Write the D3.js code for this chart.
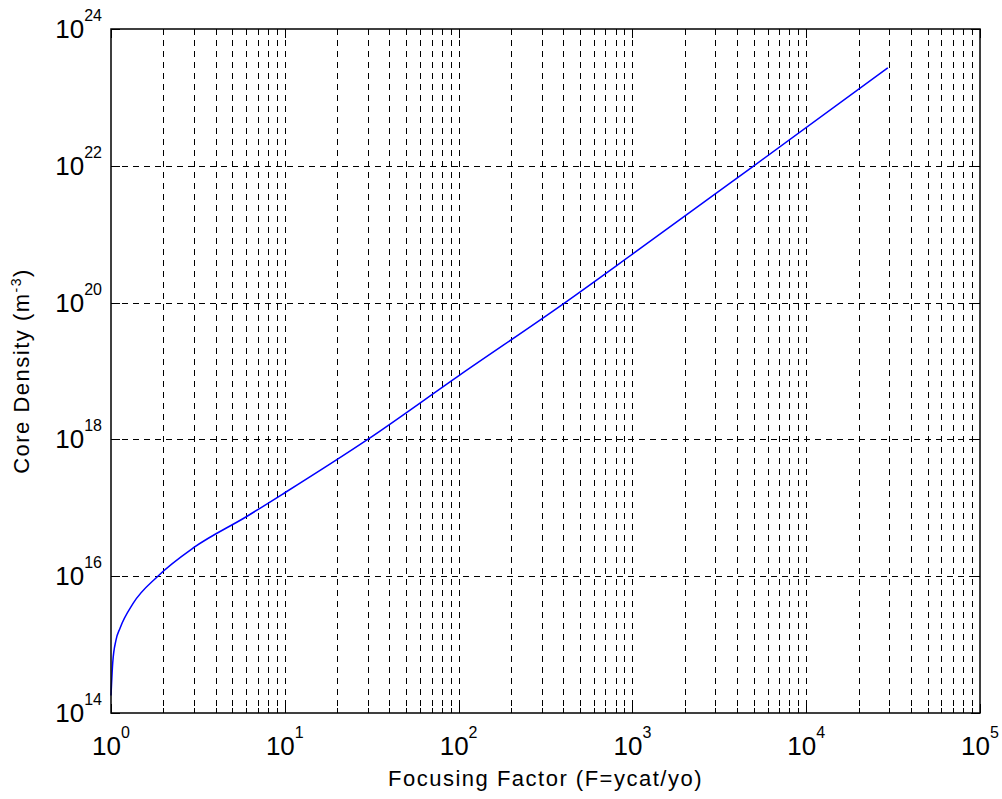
<!DOCTYPE html>
<html>
<head>
<meta charset="utf-8">
<script src="https://cdn.jsdelivr.net/npm/d3@7"></script>
<style>
  body { margin: 0; background: #fff; }
  text { font-family: "Liberation Sans", Arial, sans-serif; fill: #000; }
</style>
</head>
<body>
<div id="chart"></div>
<script>
// focusing factor F and core density (m^-3)
const focusing = [1.0, 1.023, 1.069, 1.127, 1.34, 1.86, 3, 6, 10, 30, 100, 410, 1000, 5000, 29500]
const density = [1.8e14, 5.4e14, 1.17e15, 1.74e15, 4.0e15, 1.0e16, 2.63e16, 7.4e16, 1.66e17, 1.0e18, 8.5e18, 1.0e20, 5.1e20, 1.0e22, 2.7e23]

const xTickExp = [0, 1, 2, 3, 4, 5]
const yTickExp = [14, 16, 18, 20, 22, 24]

const xTitle = "Focusing Factor (F=ycat/yo)"
const yTitle = "Core Density (m"
const yTitleSup = "-3"

var width = 1002,
    height = 799;

// plot box (top is a window property, so use prefixed names)
var pLeft = 111, pRight = 980, pTop = 29, pBottom = 713;

var svg = d3.select('#chart')
    .append('svg')
    .attr("width", width)
    .attr("height", height)

var x = d3.scaleLog().domain([1, 1e5]).range([pLeft, pRight])
var y = d3.scaleLog().domain([1e14, 1e24]).range([pBottom, pTop])

// grid - vertical at every log tick, horizontal at labelled ticks only
let gridX = x.ticks().filter(d => d > 1 && d < 1e5)
let gridY = yTickExp.map(e => Math.pow(10, e)).filter(d => d > 1e14 && d < 1e24)

let grid = svg.append("g")
    .attr("stroke", "#000")
    .attr("stroke-width", 1)
    .attr("stroke-dasharray", "6,5")

grid.selectAll(".gx")
    .data(gridX)
    .enter().append("line")
    .attr("x1", d => Math.round(x(d)) + 0.5)
    .attr("x2", d => Math.round(x(d)) + 0.5)
    .attr("y1", pTop)
    .attr("y2", pBottom)

grid.selectAll(".gy")
    .data(gridY)
    .enter().append("line")
    .attr("x1", pLeft)
    .attr("x2", pRight)
    .attr("y1", d => Math.round(y(d)) + 0.5)
    .attr("y2", d => Math.round(y(d)) + 0.5)

// ticks on all four sides, pointing inwards
let ticks = svg.append("g").attr("stroke", "#000").attr("stroke-width", 1)
x.ticks().forEach(d => {
    let lg = Math.log10(d)
    let major = Math.abs(lg - Math.round(lg)) < 1e-9
    let len = major ? 9 : 5
    let px = Math.round(x(d)) + 0.5
    ticks.append("line").attr("x1", px).attr("x2", px).attr("y1", pBottom).attr("y2", pBottom - len)
    ticks.append("line").attr("x1", px).attr("x2", px).attr("y1", pTop).attr("y2", pTop + len)
})
yTickExp.forEach(e => {
    let py = Math.round(y(Math.pow(10, e))) + 0.5
    ticks.append("line").attr("x1", pLeft).attr("x2", pLeft + 9).attr("y1", py).attr("y2", py)
    ticks.append("line").attr("x1", pRight).attr("x2", pRight - 9).attr("y1", py).attr("y2", py)
})

// curve
let line = d3.line()
    .x((d, i) => x(focusing[i]))
    .y(d => y(d))
    .curve(d3.curveMonotoneX)

svg.append("path")
    .datum(density)
    .attr("d", line)
    .attr("fill", "none")
    .attr("stroke", "#0000ff")
    .attr("stroke-width", 1.5)

// box
svg.append("rect")
    .attr("x", pLeft)
    .attr("y", pTop)
    .attr("width", pRight - pLeft)
    .attr("height", pBottom - pTop)
    .attr("fill", "none")
    .attr("stroke", "#000")
    .attr("stroke-width", 1.5)

// tick labels
xTickExp.forEach(e => {
    let t = svg.append("text")
        .attr("x", x(Math.pow(10, e)))
        .attr("y", pBottom + 42)
        .attr("text-anchor", "middle")
        .style("font-size", "26px")
    t.append("tspan").text("10")
    t.append("tspan").attr("dy", -17).style("font-size", "16px").text(e)
})

yTickExp.forEach(e => {
    let t = svg.append("text")
        .attr("x", 102)
        .attr("y", y(Math.pow(10, e)) + 9)
        .attr("text-anchor", "end")
        .style("font-size", "26px")
    t.append("tspan").text("10")
    t.append("tspan").attr("dy", -17).style("font-size", "16px").text(e)
})

// axis titles
svg.append("text")
    .attr("x", (pLeft + pRight) / 2)
    .attr("y", 786)
    .attr("text-anchor", "middle")
    .style("font-size", "22px")
    .style("letter-spacing", "1.5px")
    .text(xTitle)

let yt = svg.append("text")
    .attr("transform", "translate(29," + ((pTop + pBottom) / 2) + ") rotate(-90)")
    .attr("text-anchor", "middle")
    .style("font-size", "22px")
    .style("letter-spacing", "1.5px")
yt.append("tspan").text(yTitle)
yt.append("tspan").attr("dy", -8).style("font-size", "14px").text(yTitleSup)
yt.append("tspan").attr("dy", 8).text(")")
</script>
</body>
</html>
